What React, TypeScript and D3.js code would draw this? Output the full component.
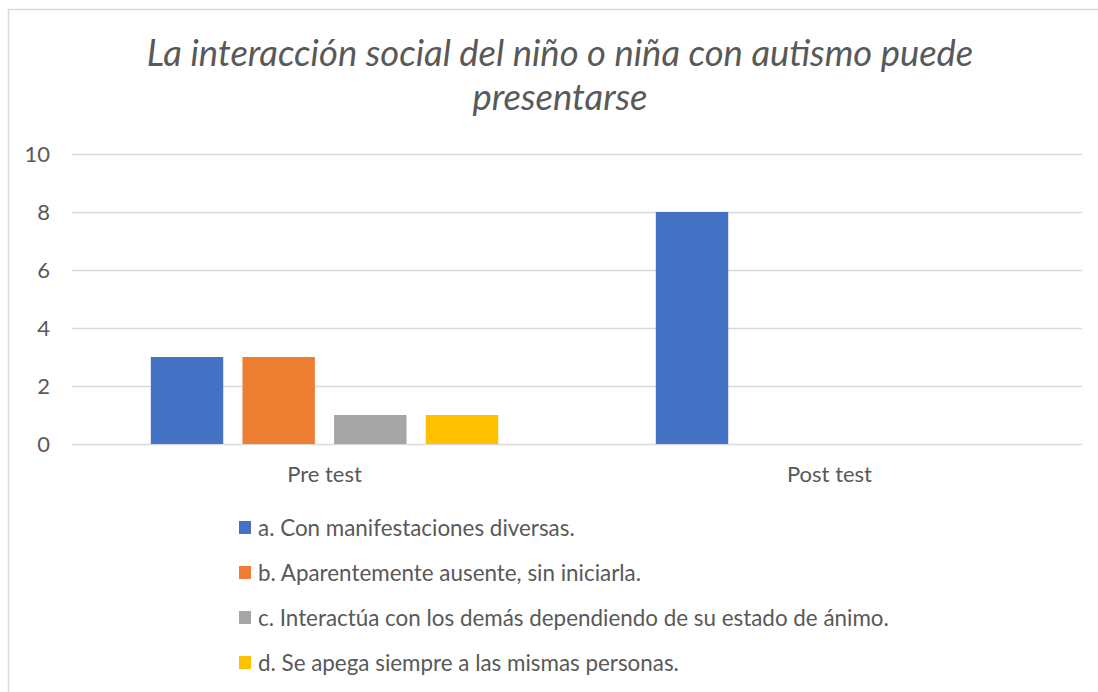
import React, { useEffect, useRef } from 'react';
import * as d3 from 'd3';

const categories = ['Pre test', 'Post test'];
const seriesNames = [
  'a. Con manifestaciones diversas.',
  'b. Aparentemente ausente, sin iniciarla.',
  'c. Interactúa con los demás dependiendo de su estado de ánimo.',
  'd. Se apega siempre a las mismas personas.',
];
const seriesColors = ['#4472C4', '#ED7D31', '#A5A5A5', '#FFC000'];
const seriesA = [3, 8];
const seriesB = [3, 0];
const seriesC = [1, 0];
const seriesD = [1, 0];
const yTicks = [0, 2, 4, 6, 8, 10];
const titleLines = ['La interacción social del niño o niña con autismo puede', 'presentarse'];

const allSeries = [seriesA, seriesB, seriesC, seriesD];

export default function App() {
  const ref = useRef<SVGSVGElement>(null);

  useEffect(() => {
    document.body.style.margin = '0';
    const width = 1098;
    const height = 692;
    const margin = { top: 154, bottom: 248, left: 72, right: 16 };
    const font = 'Lato, "Open Sans", sans-serif';
    const textColor = '#595959';

    const svg = d3.select(ref.current);
    svg.selectAll('*').remove();

    svg.append('rect').attr('width', width).attr('height', height).attr('fill', '#fff');

    // chart area border (only top/left visible in the crop)
    svg
      .append('rect')
      .attr('x', 8.5)
      .attr('y', 9.5)
      .attr('width', width + 20)
      .attr('height', height + 20)
      .attr('fill', 'none')
      .attr('stroke', '#D9D9D9')
      .attr('stroke-width', 1.5);

    const xScale = d3
      .scaleBand()
      .domain(categories)
      .range([margin.left, width - margin.right]);

    const inner = d3
      .scaleBand()
      .domain(seriesNames)
      .range([0, xScale.bandwidth()])
      .paddingInner(0.21)
      .paddingOuter(0.86);

    const yScale = d3
      .scaleLinear()
      .domain([0, 10])
      .range([height - margin.bottom, margin.top]);

    // grid
    const grid = svg
      .append('g')
      .attr('transform', `translate(${margin.left}, 0)`)
      .call(
        d3
          .axisLeft(yScale)
          .tickValues(yTicks)
          .tickSize(-(width - margin.left - margin.right))
          .tickFormat(() => '')
      );
    grid.select('.domain').remove();
    grid.selectAll('line').attr('stroke', '#D9D9D9').attr('stroke-width', 1.5);

    // y labels
    const yAxis = svg
      .append('g')
      .attr('transform', `translate(${margin.left}, 0)`)
      .call(d3.axisLeft(yScale).tickValues(yTicks).tickSize(0).tickPadding(22));
    yAxis.select('.domain').remove();
    yAxis
      .selectAll('text')
      .attr('fill', textColor)
      .style('font-family', font)
      .style('font-size', '22px');

    // bars
    categories.forEach((cat, ci) => {
      const g = svg.append('g').attr('transform', `translate(${xScale(cat)}, 0)`);
      g.selectAll('rect')
        .data(allSeries.map((s, si) => ({ name: seriesNames[si], value: s[ci], color: seriesColors[si] })))
        .enter()
        .append('rect')
        .attr('x', (d) => inner(d.name) as number)
        .attr('y', (d) => yScale(d.value))
        .attr('width', inner.bandwidth())
        .attr('height', (d) => yScale(0) - yScale(d.value))
        .attr('fill', (d) => d.color);
    });

    // category labels
    svg
      .selectAll('.cat')
      .data(categories)
      .enter()
      .append('text')
      .attr('x', (d) => (xScale(d) as number) + xScale.bandwidth() / 2)
      .attr('y', 482)
      .attr('text-anchor', 'middle')
      .attr('fill', textColor)
      .style('font-family', font)
      .style('font-size', '22px')
      .text((d) => d);

    // title
    svg
      .selectAll('.title')
      .data(titleLines)
      .enter()
      .append('text')
      .attr('x', 560)
      .attr('y', (_, i) => 66 + i * 44)
      .attr('text-anchor', 'middle')
      .attr('fill', textColor)
      .style('font-family', font)
      .style('font-style', 'italic')
      .style('font-size', '36.4px')
      .text((d) => d);

    // legend
    const legend = svg
      .append('g')
      .selectAll('g')
      .data(seriesNames)
      .enter()
      .append('g')
      .attr('transform', (_, i) => `translate(239, ${521 + i * 45})`);
    legend
      .append('rect')
      .attr('width', 12)
      .attr('height', 13)
      .attr('fill', (_, i) => seriesColors[i]);
    legend
      .append('text')
      .attr('x', 19)
      .attr('y', 14.5)
      .attr('fill', textColor)
      .style('font-family', font)
      .style('font-size', '22.4px')
      .text((d) => d);
  }, []);

  return <svg ref={ref} width={1098} height={692} style={{ display: 'block' }} />;
}
